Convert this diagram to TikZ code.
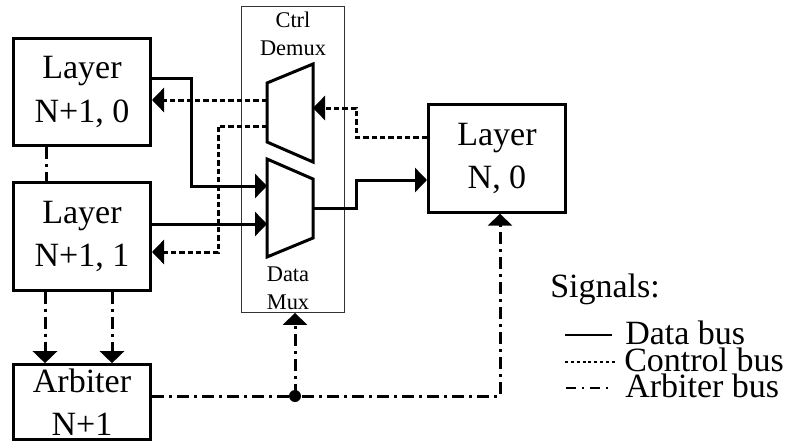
\documentclass[tikz,border=0pt]{standalone}
\usepackage{fontspec}
\setmainfont{Liberation Serif}
\usetikzlibrary{arrows.meta, calc}

\begin{document}
\begin{tikzpicture}[
  x=0.75pt, y=-0.75pt,
  layerbox/.style = {draw, line width=2.25pt, minimum width=102.75pt,
                     minimum height=80.5pt, align=center, inner sep=0pt,
                     font=\fontsize{25.5}{32.5}\selectfont},
  arbbox/.style   = {layerbox, minimum height=56pt},
  muxframe/.style = {draw=black!80, line width=0.6pt, minimum width=77.25pt,
                     minimum height=229.5pt, inner sep=0pt},
  muxshape/.style = {line width=2.25pt, line join=miter},
  smalllbl/.style = {align=center, inner sep=0pt,
                     font=\fontsize{16.8}{21}\selectfont},
  keylbl/.style   = {anchor=base west, inner sep=0pt,
                     font=\fontsize{25.5}{30}\selectfont},
  arr/.style      = {-{Triangle[length=9pt, width=18pt]}},
  databus/.style  = {line width=2.25pt},
  ctrlbus/.style  = {line width=2.25pt, dash pattern=on 4pt off 2.25pt},
  arbbus/.style   = {line width=2.25pt,
                     dash pattern=on 9pt off 3.75pt on 2.25pt off 3.75pt},
  keydata/.style  = {line width=1.5pt},
  keyctrl/.style  = {line width=1.5pt, dash pattern=on 2.2pt off 2.2pt},
  keyarb/.style   = {line width=1.5pt,
                     dash pattern=on 7.5pt off 4.5pt on 1.5pt off 4.5pt},
]
\useasboundingbox (0,0) rectangle (790,443);

%% ── CAPAS ─────────────────────────────────────────────────────────────────
\node[layerbox] (l10) at ( 82,  92.0) {Layer\\N+1, 0};
\node[layerbox] (l11) at ( 82, 236.5) {Layer\\N+1, 1};
\node[arbbox]   (arb) at ( 82, 402.0) {Arbiter\\N+1};
\node[layerbox] (l0)  at (497, 158.5) {Layer\\N, 0};

%% ── MUX / DEMUX ───────────────────────────────────────────────────────────
\node[muxframe] (muxbox) at (293, 159.5) {};
\node[smalllbl] (ctrllbl) at (293,  33.5) {Ctrl\\Demux};
\node[smalllbl] (datalbl) at (288, 288.5) {Data\\Mux};

\draw[muxshape] (267,  83) -- (313,  64) -- (313, 162) -- (267, 142) -- cycle;
\draw[muxshape] (267, 159) -- (313, 179) -- (313, 238) -- (267, 257) -- cycle;

\coordinate (demuxin)   at (313, 108);
\coordinate (demuxout0) at (267, 100);
\coordinate (demuxout1) at (267, 126);
\coordinate (muxin0)    at (267, 186);
\coordinate (muxin1)    at (267, 224);
\coordinate (muxout)    at (313, 208);

%% Data bus
\draw[databus, arr] ($(l10.east)+(0,-14)$) -- ++(39,0) |- (muxin0);
\draw[databus, arr] (l11.east |- muxin1) -- (muxin1);
\draw[databus, arr] (muxout) -- ++(43,0) |- ($(l0.west)+(0,21.5)$);

%% Control bus
\draw[ctrlbus, arr] ($(l0.west)+(0,-21.5)$) -- ++(-71,0) |- (demuxin);
\draw[ctrlbus, arr] (demuxout0) -- (l10.east |- demuxout0);
\draw[ctrlbus, arr] (demuxout1) -- ++(-49,0) |- ($(l11.east)+(0,15.5)$);

%% Arbiter bus
\draw[arbbus] ($(l10.south)+(-36,0)$) -- ($(l11.north)+(-36,0)$);
\draw[arbbus, arr] ($(l11.south)+(-37,0)$) -- ($(arb.north)+(-37,0)$);
\draw[arbbus, arr] ($(l11.south)+(30,0)$) -- ($(arb.north)+(30,0)$);

\coordinate (arbout) at ($(arb.east)+(0,-6)$);
\coordinate (jn) at ($(arbout -| muxbox.south)+(2,0)$);
\draw[arbbus, arr] (arbout) -| ($(l0.south)+(3,0)$);
\draw[arbbus, arr] (jn) -- (jn |- muxbox.south);
\fill (jn) circle (4.5pt);

%% ── LEYENDA ───────────────────────────────────────────────────────────────
\node[keylbl] (sig)   at (550, 297) {Signals:};
\node[keylbl] (kdata) at (625, 344) {Data bus};
\node[keylbl] (kctrl) at (624, 371) {Control bus};
\node[keylbl] (karb)  at (625, 397) {Arbiter bus};

\draw[keydata] ($(kdata.west)+(-60,3)$) -- ($(kdata.west)+(-13,3)$);
\draw[keyctrl] ($(kctrl.west)+(-59,3)$) -- ($(kctrl.west)+(-8,3)$);
\draw[keyarb]  ($(karb.west)+(-59,3)$)  -- ($(karb.west)+(-14,3)$);

\end{tikzpicture}
\end{document}
